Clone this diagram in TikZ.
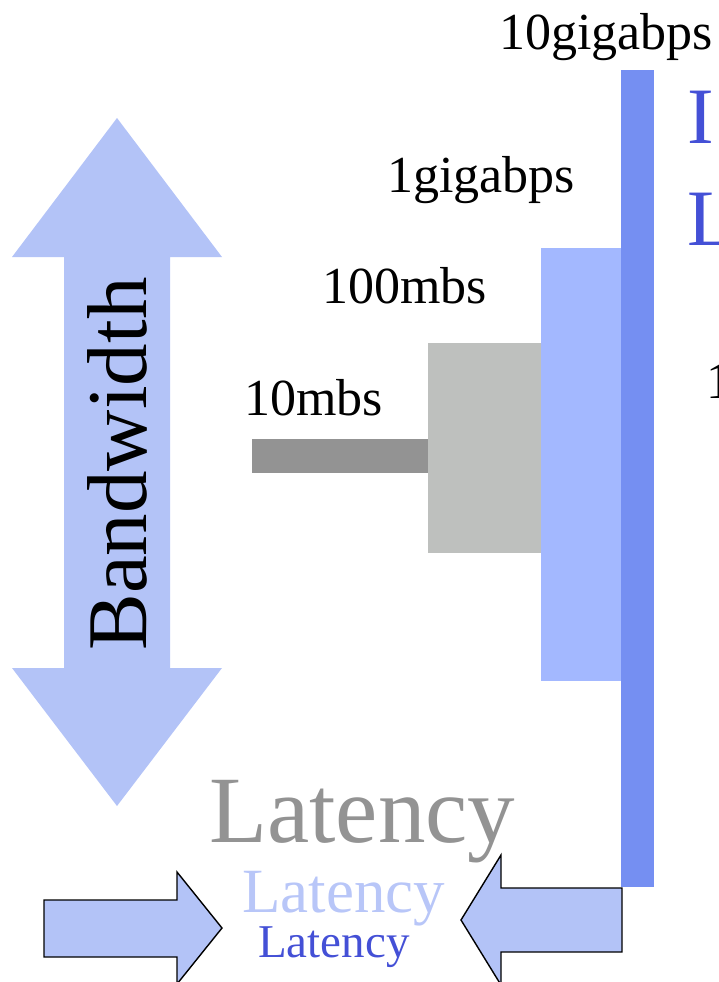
\documentclass[tikz,border=0pt]{standalone}
\usepackage{fontspec}
\setmainfont{Liberation Serif}
\definecolor{linkdark}{HTML}{758FF2}
\definecolor{linklight}{HTML}{A3B8FF}
\definecolor{boxgray}{HTML}{BEC0BE}
\definecolor{bargray}{HTML}{939393}
\definecolor{arrowfill}{HTML}{B3C3F7}
\definecolor{latlight}{HTML}{B8C6F8}
\definecolor{latdark}{HTML}{4450D6}
\tikzset{
  rate/.style={inner sep=0pt, anchor=base west, font=\fontsize{52}{60}\selectfont},
  bigarrow/.style={fill=arrowfill, draw=black, line width=1.4pt, line join=miter},
  bandarrow/.style={fill=arrowfill, draw=none},
}
\begin{document}
\begin{tikzpicture}[x=1pt,y=-1pt]
\useasboundingbox (0,0) rectangle (719,982);

% link capacity bars
\fill[bargray]   (252,439) rectangle (428,473);
\fill[boxgray]   (428,343) rectangle (541,553);
\fill[linklight] (541,248) rectangle (621,681);
\fill[linkdark]  (621,70)  rectangle (654,887);

% rate labels
\node[rate] (r10g)  at (499,50)  {10gigabps};
\node[rate] (r1g)   at (387,192) {1gigabps};
\node[rate] (r100m) at (322,303) {100mbs};
\node[rate] (r10m)  at (244,415) {10mbs};
\node[rate] (rone)  at (706,398) {1};

% blue headings at the right edge
\node[inner sep=0pt, anchor=base west, text=latdark, font=\fontsize{80}{90}\selectfont] (hi) at (687,143) {I};
\node[inner sep=0pt, anchor=base west, text=latdark, font=\fontsize{80}{90}\selectfont] (hl) at (687,245) {L};

% bandwidth double arrow
\fill[bandarrow] (117,118) -- (222,257) -- (170,257) -- (170,668) -- (222,668)
  -- (117,806) -- (12,668) -- (64,668) -- (64,257) -- (12,257) -- cycle;
\node[rotate=90, inner sep=0pt, font=\fontsize{85}{90}\selectfont] (bw) at (117,464) {Bandwidth};

% latency labels
\node[inner sep=0pt, anchor=base west, text=bargray, font=\fontsize{95}{100}\selectfont] (lat1) at (209,842) {Latency};
\node[inner sep=0pt, anchor=base west, text=latlight, font=\fontsize{63}{70}\selectfont] (lat2) at (242,912) {Latency};
\node[inner sep=0pt, anchor=base west, text=latdark, font=\fontsize{47}{55}\selectfont] (lat3) at (258,957) {Latency};

% converging latency arrows
\draw[bigarrow] (44,900) -- (177,900) -- (177,872) -- (222,928) -- (177,984)
  -- (177,957) -- (44,957) -- cycle;
\draw[bigarrow] (622,888) -- (501,888) -- (501,855) -- (461,920) -- (501,985)
  -- (501,952) -- (622,952) -- cycle;
\end{tikzpicture}
\end{document}
